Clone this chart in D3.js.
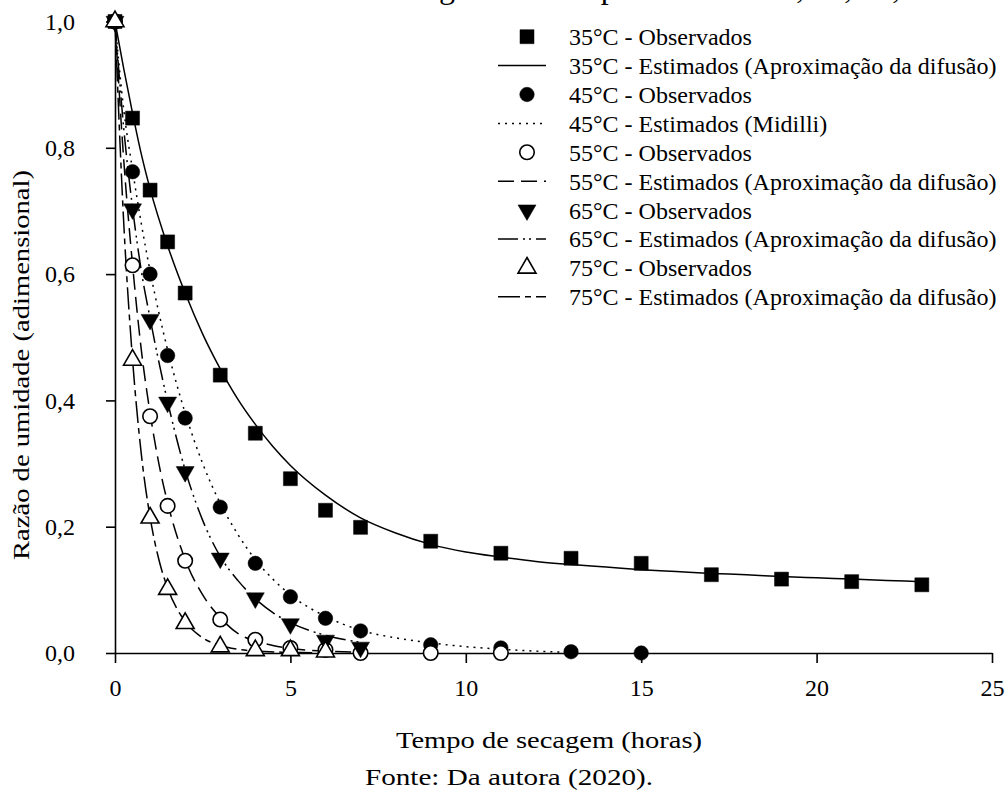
<!DOCTYPE html>
<html>
<head>
<meta charset="utf-8">
<script src="https://cdn.jsdelivr.net/npm/d3@7"></script>
<style>
  html, body { margin: 0; padding: 0; background: #fff; }
  svg { display: block; font-family: "Liberation Serif", "Times New Roman", serif; }
</style>
</head>
<body>
<div id="chart"></div>
<script>
const obsTimes35 = [0, 0.5, 1, 1.5, 2, 3, 4, 5, 6, 7, 9, 11, 13, 15, 17, 19, 21, 23]
const obs35 = [1, 0.847, 0.733, 0.651, 0.570, 0.440, 0.348, 0.276, 0.226, 0.199, 0.177, 0.158, 0.150, 0.142, 0.124, 0.117, 0.113, 0.108]
const obsTimes45 = [0, 0.5, 1, 1.5, 2, 3, 4, 5, 6, 7, 9, 11, 13, 15]
const obs45 = [1, 0.762, 0.600, 0.471, 0.372, 0.231, 0.142, 0.089, 0.055, 0.035, 0.013, 0.008, 0.002, 0.0]
const obsTimes55 = [0, 0.5, 1, 1.5, 2, 3, 4, 5, 6, 7, 9, 11]
const obs55 = [1, 0.614, 0.375, 0.233, 0.146, 0.053, 0.021, 0.008, 0.005, 0.0, 0.0, 0.0]
const obsTimes65 = [0, 0.5, 1, 1.5, 2, 3, 4, 5, 6, 7]
const obs65 = [1, 0.703, 0.528, 0.397, 0.287, 0.150, 0.087, 0.046, 0.020, 0.009]
const obsTimes75 = [0, 0.5, 1, 1.5, 2, 3, 4, 5, 6]
const obs75 = [1, 0.464, 0.214, 0.101, 0.047, 0.010, 0.004, 0.004, 0.002]

// estimated curves
const fitTimes35 = [0, 0.25, 0.5, 0.75, 1, 1.5, 2, 2.5, 3, 3.5, 4, 4.5, 5, 6, 7, 8, 9, 10, 11, 12, 13, 14, 15, 16, 17, 18, 19, 20, 21, 22, 23]
const fit35 = [1, 0.925, 0.855, 0.79, 0.735, 0.645, 0.57, 0.505, 0.45, 0.402, 0.362, 0.327, 0.297, 0.25, 0.214, 0.19, 0.172, 0.16, 0.152, 0.145, 0.14, 0.136, 0.132, 0.129, 0.126, 0.124, 0.121, 0.119, 0.117, 0.115, 0.113]
const fitTimes45 = [0, 0.25, 0.5, 0.75, 1, 1.5, 2, 2.5, 3, 3.5, 4, 4.5, 5, 6, 7, 8, 9, 10, 11, 12, 13]
const fit45 = [1, 0.86, 0.765, 0.68, 0.605, 0.48, 0.38, 0.3, 0.237, 0.188, 0.148, 0.117, 0.092, 0.058, 0.036, 0.024, 0.016, 0.010, 0.006, 0.003, 0.001]
const fitTimes55 = [0, 0.25, 0.5, 0.75, 1, 1.25, 1.5, 2, 2.5, 3, 3.5, 4, 4.5, 5, 6, 7]
const fit55 = [1, 0.78, 0.615, 0.48, 0.38, 0.3, 0.238, 0.148, 0.092, 0.056, 0.031, 0.019, 0.012, 0.007, 0.003, 0.001]
const fitTimes65 = [0, 0.25, 0.5, 0.75, 1, 1.5, 2, 2.5, 3, 3.5, 4, 4.5, 5, 6, 7]
const fit65 = [1, 0.83, 0.705, 0.605, 0.53, 0.398, 0.29, 0.21, 0.153, 0.115, 0.086, 0.064, 0.048, 0.028, 0.017]
const fitTimes75 = [0, 0.25, 0.5, 0.75, 1, 1.25, 1.5, 2, 2.5, 3, 3.5, 4, 5, 6]
const fit75 = [1, 0.68, 0.465, 0.315, 0.215, 0.148, 0.103, 0.05, 0.024, 0.012, 0.006, 0.003, 0.001, 0]

const xTicks = [0, 5, 10, 15, 20, 25]
const yTicks = [0, 0.2, 0.4, 0.6, 0.8, 1.0]

const legendLabels = [
    '35°C - Observados',
    '35°C - Estimados (Aproximação da difusão)',
    '45°C - Observados',
    '45°C - Estimados (Midilli)',
    '55°C - Observados',
    '55°C - Estimados (Aproximação da difusão)',
    '65°C - Observados',
    '65°C - Estimados (Aproximação da difusão)',
    '75°C - Observados',
    '75°C - Estimados (Aproximação da difusão)'
]

const titleText = 'Curvas de secagem nas temperaturas de 35, 45, 55, 65 e 75 °C'
const xTitle = 'Tempo de secagem (horas)'
const yTitle = 'Razão de umidade (adimensional)'
const sourceText = 'Fonte: Da autora (2020).'

const chartWidth = 1008
const chartHeight = 791

const series = [
    { times: obsTimes35, obs: obs35, fitT: fitTimes35, fit: fit35, symbol: 'square', filled: true, dash: null },
    { times: obsTimes45, obs: obs45, fitT: fitTimes45, fit: fit45, symbol: 'circle', filled: true, dash: '2,5' },
    { times: obsTimes55, obs: obs55, fitT: fitTimes55, fit: fit55, symbol: 'circle', filled: false, dash: '16,7' },
    { times: obsTimes65, obs: obs65, fitT: fitTimes65, fit: fit65, symbol: 'down', filled: true, dash: '20,5,2,4,2,5' },
    { times: obsTimes75, obs: obs75, fitT: fitTimes75, fit: fit75, symbol: 'up', filled: false, dash: '22,5,6,5' }
]

const svg = d3.select('#chart')
    .append('svg')
    .attr('width', chartWidth)
    .attr('height', chartHeight)

const xScale = d3.scaleLinear().domain([0, 25]).range([115, 992])
const yScale = d3.scaleLinear().domain([0, 1]).range([653, 21.5])

// caption line above the plot: only its lowest pixels are inside the picture
const title = svg.append('text')
    .attr('x', 0)
    .attr('y', -2)
    .attr('font-size', 32)
    .attr('fill', '#000')
    .text(titleText)
const gIdx = titleText.indexOf('secagem') + 4
const gPos = title.node().getStartPositionOfChar(gIdx).x
title.attr('x', 439 - gPos)

// axes
const comma = d => d3.format('.1f')(d).replace('.', ',')
const yAxis = d3.axisLeft(yScale).tickValues(yTicks).tickFormat(comma)
    .tickSize(9).tickSizeOuter(0).tickPadding(31)
const xAxis = d3.axisBottom(xScale).tickValues(xTicks).tickFormat(d3.format('d'))
    .tickSize(10).tickSizeOuter(0).tickPadding(16)

svg.append('g')
    .attr('transform', 'translate(115, 0)')
    .call(yAxis)
svg.append('g')
    .attr('transform', 'translate(0, 653)')
    .call(xAxis)

svg.selectAll('.domain, .tick line')
    .attr('stroke', '#000')
    .attr('stroke-width', 1.6)
svg.selectAll('.tick text')
    .attr('font-family', '"Liberation Serif", "Times New Roman", serif')
    .attr('font-size', 24)
    .attr('fill', '#000')

// axis titles and source
svg.append('text')
    .attr('x', 549)
    .attr('y', 748)
    .attr('text-anchor', 'middle')
    .attr('font-size', 23)
    .attr('fill', '#000')
    .attr('textLength', 306)
    .attr('lengthAdjust', 'spacingAndGlyphs')
    .text(xTitle)

svg.append('text')
    .attr('transform', 'translate(29, 365) rotate(-90)')
    .attr('text-anchor', 'middle')
    .attr('font-size', 23)
    .attr('fill', '#000')
    .attr('textLength', 390)
    .attr('lengthAdjust', 'spacingAndGlyphs')
    .text(yTitle)

svg.append('text')
    .attr('x', 509)
    .attr('y', 785)
    .attr('text-anchor', 'middle')
    .attr('font-size', 23)
    .attr('fill', '#000')
    .attr('textLength', 288)
    .attr('lengthAdjust', 'spacingAndGlyphs')
    .text(sourceText)

// symbols
const symbolPath = name => {
    if (name === 'square') return d3.symbol(d3.symbolSquare, 196)()
    if (name === 'circle') return d3.symbol(d3.symbolCircle, 165)()
    return d3.symbol(d3.symbolTriangle, 140)()
}
const drawMarker = (g, s, cx, cy) => {
    g.append('path')
        .attr('d', symbolPath(s.symbol))
        .attr('transform', `translate(${cx}, ${cy})` + (s.symbol === 'down' ? ' rotate(180)' : ''))
        .attr('fill', s.filled ? '#000' : '#fff')
        .attr('stroke', '#000')
        .attr('stroke-width', s.filled ? 0.5 : 1.6)
}

// estimated curves
const line = d3.line()
    .x(d => xScale(d[0]))
    .y(d => yScale(d[1]))
    .curve(d3.curveMonotoneX)

const curves = svg.append('g')
series.forEach(s => {
    curves.append('path')
        .datum(d3.zip(s.fitT, s.fit))
        .attr('d', line)
        .attr('fill', 'none')
        .attr('stroke', '#000')
        .attr('stroke-width', 1.5)
        .attr('stroke-dasharray', s.dash)
})

// observed markers
const markers = svg.append('g')
series.forEach(s => {
    s.times.forEach((t, i) => drawMarker(markers, s, xScale(t), yScale(s.obs[i])))
})

// legend
const legend = svg.append('g')
legendLabels.forEach((label, i) => {
    const cy = 36.7 + i * 28.9
    const s = series[Math.floor(i / 2)]
    if (i % 2 === 0) {
        drawMarker(legend, s, 527, cy)
    } else {
        legend.append('line')
            .attr('x1', 498).attr('x2', 546)
            .attr('y1', cy).attr('y2', cy)
            .attr('stroke', '#000')
            .attr('stroke-width', 1.5)
            .attr('stroke-dasharray', s.dash)
    }
    legend.append('text')
        .attr('x', 569)
        .attr('y', cy)
        .attr('dy', '0.35em')
        .attr('font-size', 24)
        .attr('fill', '#000')
        .text(label)
})
</script>
</body>
</html>
